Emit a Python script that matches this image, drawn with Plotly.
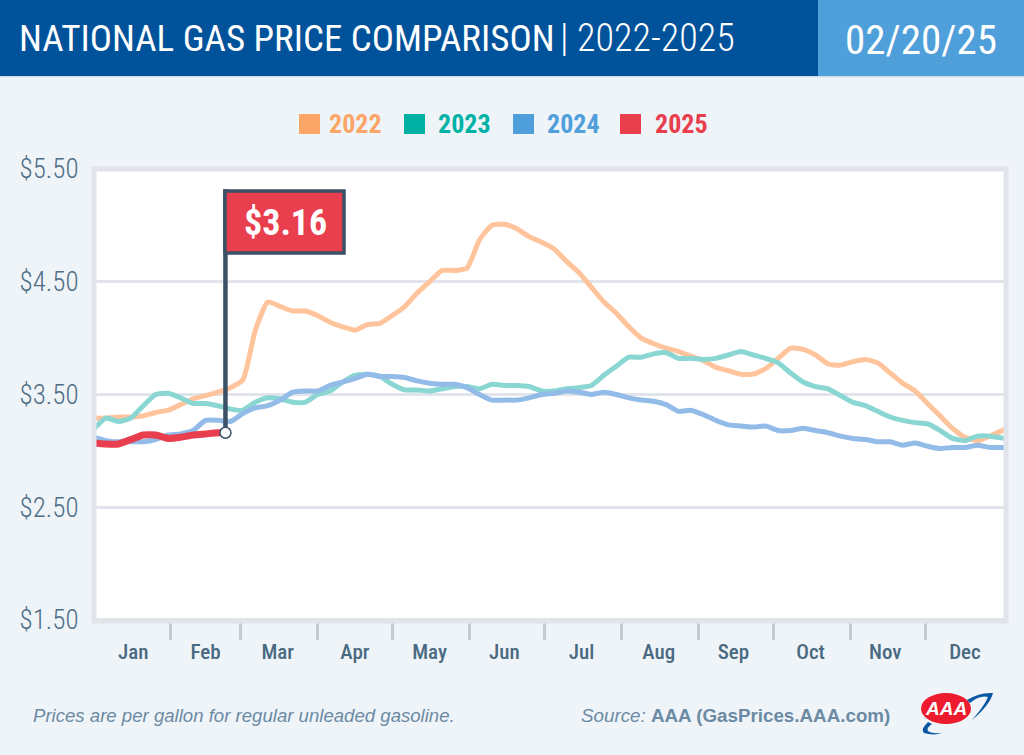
import plotly.graph_objects as go

# day of year and price per gallon
days = list(range(0, 365, 5)) + [366]
days_2025 = [0, 5, 10, 15, 20, 25, 30, 35, 40, 45, 50, 53]

price_2022 = [3.29, 3.29, 3.30, 3.30, 3.31, 3.34, 3.36, 3.41, 3.46, 3.49, 3.52, 3.56, 3.63, 4.07, 4.32, 4.28, 4.24, 4.24, 4.20,
              4.14, 4.10, 4.07, 4.12, 4.13, 4.20, 4.28, 4.40, 4.50, 4.60, 4.60, 4.62, 4.87, 5.00, 5.01, 4.97, 4.90, 4.85, 4.79,
              4.68, 4.58, 4.45, 4.32, 4.22, 4.10, 4.00, 3.95, 3.91, 3.88, 3.84, 3.80, 3.74, 3.71, 3.68, 3.68, 3.73, 3.82, 3.91,
              3.90, 3.85, 3.77, 3.76, 3.79, 3.81, 3.78, 3.69, 3.60, 3.53, 3.42, 3.31, 3.20, 3.12, 3.09, 3.13, 3.19]
price_2023 = [3.19, 3.29, 3.26, 3.29, 3.40, 3.50, 3.51, 3.47, 3.42, 3.42, 3.40, 3.37, 3.36, 3.43, 3.47, 3.46, 3.43, 3.43, 3.50,
              3.53, 3.61, 3.67, 3.68, 3.66, 3.59, 3.54, 3.54, 3.53, 3.55, 3.57, 3.57, 3.55, 3.59, 3.58, 3.58, 3.57, 3.53, 3.53,
              3.55, 3.56, 3.58, 3.67, 3.75, 3.83, 3.83, 3.86, 3.87, 3.82, 3.82, 3.81, 3.82, 3.85, 3.88, 3.85, 3.82, 3.78, 3.69,
              3.61, 3.57, 3.55, 3.49, 3.43, 3.40, 3.35, 3.30, 3.27, 3.25, 3.24, 3.18, 3.11, 3.09, 3.13, 3.13, 3.11]
price_2024 = [3.12, 3.09, 3.08, 3.08, 3.08, 3.10, 3.14, 3.15, 3.18, 3.27, 3.27, 3.26, 3.33, 3.38, 3.40, 3.45, 3.52, 3.53, 3.53,
              3.58, 3.61, 3.64, 3.68, 3.66, 3.66, 3.65, 3.62, 3.60, 3.59, 3.59, 3.56, 3.50, 3.45, 3.45, 3.45, 3.47, 3.50, 3.51,
              3.53, 3.52, 3.50, 3.52, 3.50, 3.47, 3.45, 3.44, 3.41, 3.35, 3.36, 3.32, 3.27, 3.23, 3.22, 3.21, 3.22, 3.18, 3.18,
              3.20, 3.18, 3.16, 3.13, 3.11, 3.10, 3.08, 3.08, 3.05, 3.07, 3.04, 3.02, 3.03, 3.03, 3.05, 3.03, 3.03]
price_2025 = [3.07, 3.06, 3.06, 3.10, 3.14, 3.14, 3.11, 3.12, 3.14, 3.15, 3.16, 3.16]

month_names = ["Jan", "Feb", "Mar", "Apr", "May", "Jun", "Jul", "Aug", "Sep", "Oct", "Nov", "Dec"]
month_mids = [16, 45, 74, 105, 135, 165, 196, 227, 257, 288, 318, 350]
month_ends = [31, 59, 90, 120, 151, 181, 212, 243, 273, 304, 334]
price_ticks = [1.5, 2.5, 3.5, 4.5, 5.5]
price_labels = ["$1.50", "$2.50", "$3.50", "$4.50", "$5.50"]

NARROW = "Roboto Condensed, DejaVu Sans Condensed, Roboto, sans-serif"
SLATE = "#3A5166"
LABEL = "#4F6E85"
NOTE = "#6B8AA3"

W, H = 1024, 755
L, R, T, B = 94, 1006, 169, 621


# page pixels to paper coordinates, the header and footer sit outside the plot
def px(x):
    return (x - L) / (R - L)


def py(y):
    return (B - y) / (B - T)


def rect(x0, y0, x1, y1, color):
    return dict(type="rect", xref="paper", yref="paper", x0=px(x0), x1=px(x1), y0=py(y0), y1=py(y1),
                fillcolor=color, line_width=0, layer="below")


def text(x, y, s, size, color, anchor="left", font=NARROW, weight=400):
    return dict(xref="paper", yref="paper", x=px(x), y=py(y), text=s, showarrow=False, xanchor=anchor, yanchor="middle",
                font=dict(family=font, size=size, color=color, weight=weight))


def swoosh(*coords):
    # svg path for the logo swoosh, strings are path commands
    parts = []
    for c in coords:
        parts.append(c if isinstance(c, str) else f"{px(c[0]):.5f},{py(c[1]):.5f}")
    return dict(type="path", xref="paper", yref="paper", path=" ".join(parts), fillcolor="#0B57A4", line_width=0, layer="above")


fig = go.Figure()
fig.add_trace(go.Scatter(x=days, y=price_2022, mode="lines", line=dict(color="#FFC49B", width=5, shape="spline", smoothing=0.5), name="2022"))
fig.add_trace(go.Scatter(x=days, y=price_2023, mode="lines", line=dict(color="#8AD6D2", width=5, shape="spline", smoothing=0.5), name="2023"))
fig.add_trace(go.Scatter(x=days, y=price_2024, mode="lines", line=dict(color="#92BBE8", width=5, shape="spline", smoothing=0.5), name="2024"))
fig.add_trace(go.Scatter(x=days_2025, y=price_2025, mode="lines", line=dict(color="#E83E4D", width=7, shape="spline", smoothing=0.5), name="2025"))

# flag pole and the dot on the latest price
fig.add_trace(go.Scatter(x=[days_2025[-1], days_2025[-1]], y=[price_2025[-1], 5.32], mode="lines",
                         line=dict(color=SLATE, width=4.5)))
fig.add_trace(go.Scatter(x=[days_2025[-1]], y=[price_2025[-1]], mode="markers",
                         marker=dict(color="white", size=11, line=dict(color=SLATE, width=1.5))))

shapes = [
    rect(0, 0, 818, 76, "#00529B"),
    rect(818, 0, W, 76, "#4F9FDA"),
    rect(0, 76, W, 77.5, "#CFE0EF"),
    # plot frame
    dict(type="rect", xref="paper", yref="paper", x0=0, x1=1, y0=0, y1=1, line=dict(color="#E1E4EA", width=5), layer="above"),
    # flag
    dict(type="rect", xref="paper", yref="paper", x0=px(225), x1=px(344), y0=py(253), y1=py(191), fillcolor="#E83E4D",
         line=dict(color=SLATE, width=3.5), layer="above"),
]

legend_items = [("2022", 299, 327, "#FBA568"), ("2023", 404, 436, "#00B2A6"), ("2024", 513, 545, "#4F9FDA"), ("2025", 620, 653, "#E83E4D")]
annotations = [
    text(17, 38, "NATIONAL GAS PRICE COMPARISON", 37, "white"),
    text(737, 38, "| 2022-2025", 38, "white", "right", weight=300),
    text(921, 40, "02/20/25", 41, "white", "center"),
    text(285, 223, "<b>$3.16</b>", 36, "white", "center"),
    text(31, 715, "<i>Prices are per gallon for regular unleaded gasoline.</i>", 18.6, NOTE, font="Liberation Sans"),
    text(892, 715, "<i>Source:</i> <b>AAA (GasPrices.AAA.com)</b>", 18.8, NOTE, "right", font="Liberation Sans"),
    text(946, 708.5, "<b><i>AAA</i></b>", 19, "white", "center", font="Liberation Sans"),
]
for name, box_x, text_x, color in legend_items:
    shapes.append(dict(type="rect", xref="paper", yref="paper", x0=px(box_x + 1), x1=px(box_x + 20), y0=py(133), y1=py(115),
                       fillcolor=color, line=dict(color=color, width=2), layer="below"))
    annotations.append(text(text_x, 124, f"<b>{name}</b>", 26, color))

# AAA logo
shapes.append(dict(type="circle", xref="paper", yref="paper", x0=px(921), x1=px(971), y0=py(724), y1=py(693),
                   fillcolor="#EC1C2E", line_width=0, layer="above"))
shapes.append(swoosh("M", (967, 700), "Q", (980, 692), (993, 693), "Q", (990, 705), (972, 720), "Q", (985, 705), (988, 697), "Q", (980, 695), (970, 703), "Z"))
shapes.append(swoosh("M", (928, 722), "Q", (920, 730), (924, 733), "Q", (933, 736), (943, 733), "Q", (932, 734), (928, 731), "Q", (926, 728), (932, 724), "Z"))

fig.update_layout(
    width=W, height=H, margin=dict(l=L, r=W - R, t=T, b=H - B, pad=0),
    paper_bgcolor="#EFF4F9", plot_bgcolor="white", showlegend=False,
    shapes=shapes, annotations=annotations,
)
fig.update_xaxes(
    automargin=False, range=[0.2, 366.5], tickmode="array", tickvals=month_mids, ticktext=month_names, showgrid=False, zeroline=False,
    ticks="outside", ticklen=12, tickcolor="rgba(0,0,0,0)", tickfont=dict(family=NARROW, size=21, color="#4A6A82", weight=500),
    minor=dict(tickmode="array", tickvals=month_ends, ticks="outside", ticklen=18, tickwidth=3, tickcolor="#C5CBD3", showgrid=False),
)
fig.update_yaxes(
    automargin=False, range=[1.49, 5.5], tickmode="array", tickvals=price_ticks, ticktext=price_labels, gridcolor="#E1E4EA", gridwidth=3, zeroline=False,
    ticks="outside", ticklen=9, tickcolor="rgba(0,0,0,0)", tickfont=dict(family=NARROW, size=27, color=LABEL, weight=300),
)

fig.write_html("out.html", config=dict(displayModeBar=False), post_script="document.body.style.margin='0';")
